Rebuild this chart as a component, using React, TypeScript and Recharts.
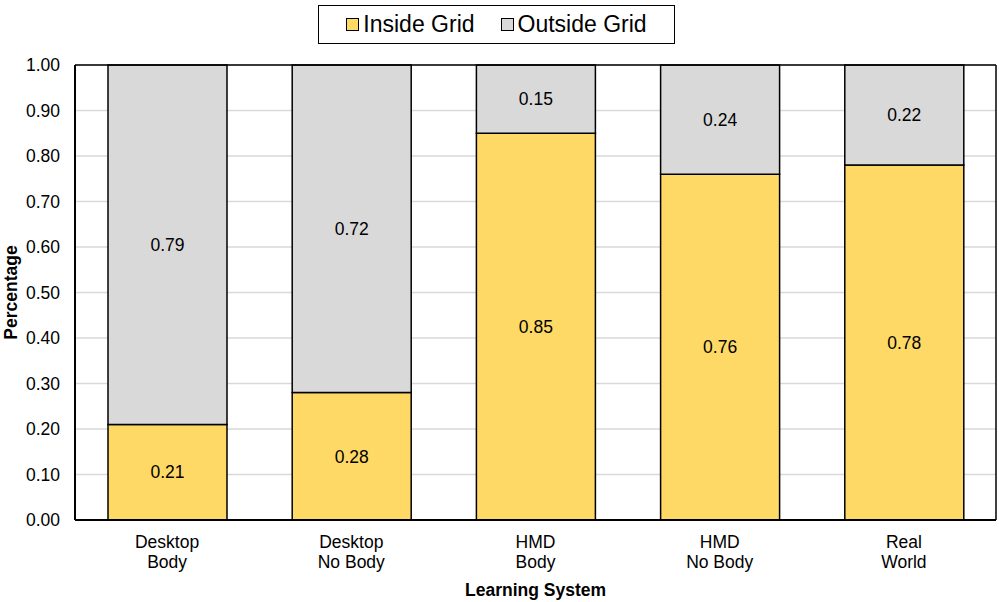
import React from "react";
import { BarChart, Bar, XAxis, YAxis, CartesianGrid, LabelList, Label } from "recharts";

const categories = ["Desktop Body", "Desktop No Body", "HMD Body", "HMD No Body", "Real World"];
const insideGrid = [0.21, 0.28, 0.85, 0.76, 0.78];
const outsideGrid = [0.79, 0.72, 0.15, 0.24, 0.22];
const yTicks = [0, 0.1, 0.2, 0.3, 0.4, 0.5, 0.6, 0.7, 0.8, 0.9, 1.0];

const data = categories.map((c, i) => ({ name: c, inside: insideGrid[i], outside: outsideGrid[i] }));

const FONT = "'Liberation Sans', Arial, sans-serif";
const FS = 17.5;

const CategoryTick = (props: any) => {
  const { x, y, payload } = props;
  const s = String(payload.value);
  const idx = s.indexOf(" ");
  const l1 = s.slice(0, idx);
  const l2 = s.slice(idx + 1);
  return (
    <text x={x} y={y} textAnchor="middle" fontSize={FS} fontFamily={FONT} fill="#000">
      <tspan x={x} dy={20}>{l1}</tspan>
      <tspan x={x} dy={20}>{l2}</tspan>
    </text>
  );
};

const LegendBox = () => (
  <div
    style={{
      position: "absolute",
      top: 5,
      left: 318,
      boxSizing: "border-box",
      width: 357,
      height: 39,
      border: "1.5px solid #000",
      background: "#fff",
      display: "flex",
      alignItems: "center",
      justifyContent: "center",
      fontFamily: FONT,
      fontSize: 23,
      color: "#000",
      zIndex: 2,
    }}
  >
    <span style={{ display: "inline-block", width: 11, height: 11, background: "#FFD966", border: "1.5px solid #000", marginRight: 4 }} />
    <span style={{ marginRight: 26 }}>Inside Grid</span>
    <span style={{ display: "inline-block", width: 11, height: 11, background: "#D9D9D9", border: "1.5px solid #000", marginRight: 4 }} />
    <span>Outside Grid</span>
  </div>
);

const YTitle = (props: any) => {
  const vb = props.viewBox || {};
  const cx = 11;
  const cy = vb.y + vb.height / 2;
  return (
    <text x={cx} y={cy} transform={`rotate(-90 ${cx} ${cy})`} textAnchor="middle" dominantBaseline="central" fontSize={FS} fontWeight="bold" fontFamily={FONT} fill="#000">
      Percentage
    </text>
  );
};

const XTitle = (props: any) => {
  const vb = props.viewBox || {};
  const cx = vb.x + vb.width / 2;
  return (
    <text x={cx} y={596} textAnchor="middle" fontSize={FS} fontWeight="bold" fontFamily={FONT} fill="#000">
      Learning System
    </text>
  );
};

export default function App() {
  return (
    <div style={{ position: "absolute", left: 0, top: 0, width: 999, height: 602, background: "#fff" }}>
      <LegendBox />
      <BarChart
        width={999}
        height={602}
        data={data}
        margin={{ top: 64, right: 2, left: 0, bottom: 0 }}
        barSize={119}
        style={{ fontFamily: FONT }}
      >
        <CartesianGrid horizontal vertical={false} stroke="#D9D9D9" strokeWidth={1.5} />
        <XAxis
          dataKey="name"
          height={82}
          tick={<CategoryTick />}
          tickLine={false}
          axisLine={{ stroke: "#000", strokeWidth: 2 }}
          interval={0}
        >
          <Label content={<XTitle />} />
        </XAxis>
        <XAxis xAxisId="top" dataKey="name" orientation="top" height={1} tick={false} tickLine={false} axisLine={{ stroke: "#000", strokeWidth: 1.5 }} />
        <YAxis
          domain={[0, 1]}
          ticks={yTicks}
          width={75}
          tickFormatter={(v: number) => v.toFixed(2)}
          tick={{ fontSize: FS, fill: "#000", fontFamily: FONT }}
          tickLine={false}
          tickMargin={9}
          axisLine={{ stroke: "#000", strokeWidth: 2 }}
          interval={0}
        >
          <Label content={<YTitle />} />
        </YAxis>
        <YAxis yAxisId="right" orientation="right" width={1} domain={[0, 1]} tick={false} tickLine={false} axisLine={{ stroke: "#000", strokeWidth: 1.5 }} />
        <Bar dataKey="inside" name="Inside Grid" stackId="a" fill="#FFD966" stroke="#000" strokeWidth={1.5} isAnimationActive={false}>
          <LabelList dataKey="inside" position="center" formatter={(v: any) => Number(v).toFixed(2)} fontSize={FS} fill="#000" fontFamily={FONT} />
        </Bar>
        <Bar dataKey="outside" name="Outside Grid" stackId="a" fill="#D9D9D9" stroke="#000" strokeWidth={1.5} isAnimationActive={false}>
          <LabelList dataKey="outside" position="center" formatter={(v: any) => Number(v).toFixed(2)} fontSize={FS} fill="#000" fontFamily={FONT} />
        </Bar>
      </BarChart>
    </div>
  );
}
